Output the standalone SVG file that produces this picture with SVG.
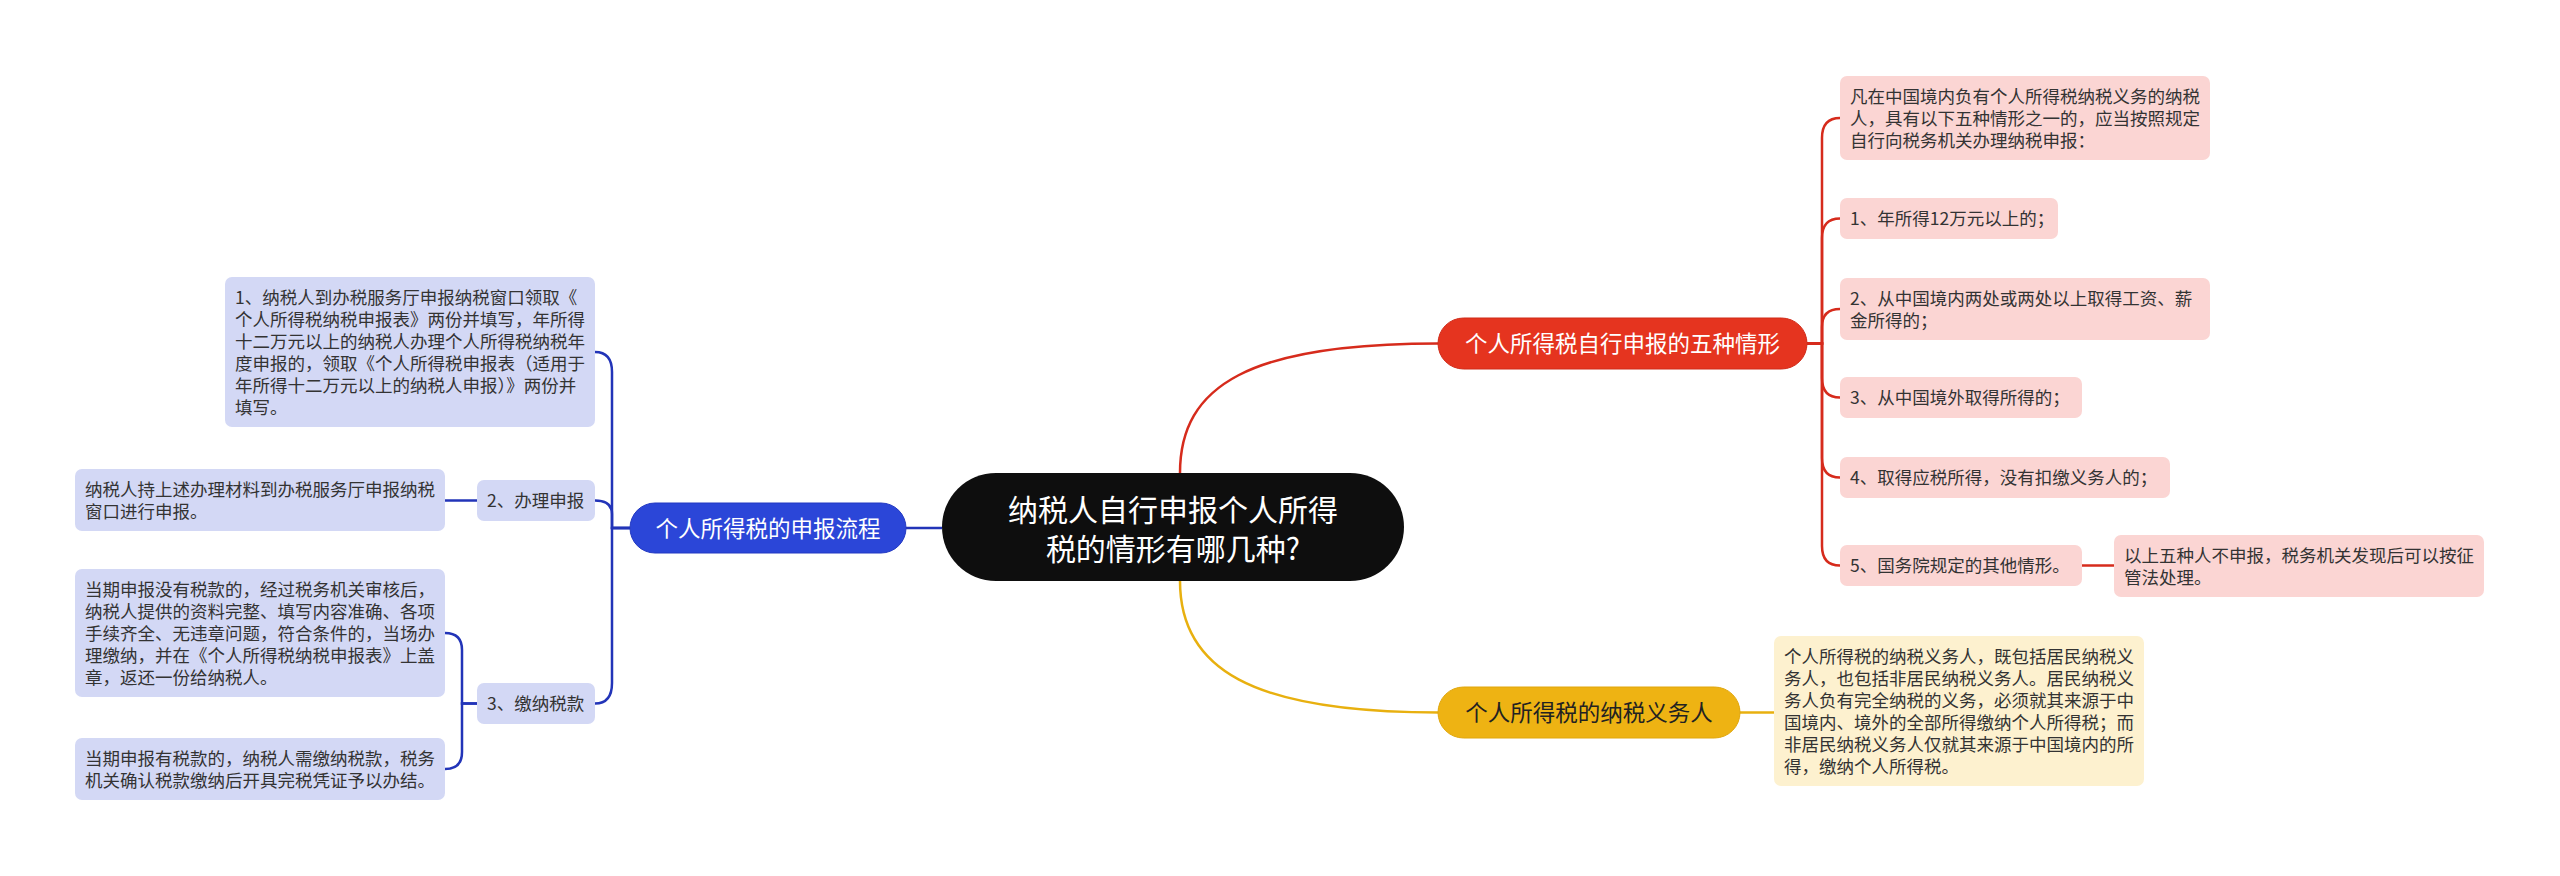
<svg xmlns="http://www.w3.org/2000/svg" width="2560" height="876" viewBox="0 0 2560 876">
<style>
text{font-family:"Noto Sans CJK SC","Noto Sans",sans-serif}
.sub{font-size:17.5px;fill:#333}
.main{font-size:22.5px;text-anchor:middle}
.ctr{font-size:30px;fill:#fff;text-anchor:middle}
.bbox{fill:#D3D8F5}
.rbox{fill:#FBD5D3}
.ybox{fill:#FDF1CF}
.cb{fill:none;stroke:#2234B8;stroke-width:2.5}
.cr{fill:none;stroke:#D62B1C;stroke-width:2.5}
.cy{fill:none;stroke:#E8B00F;stroke-width:2.5}
</style>
<rect width="2560" height="876" fill="#fff"/>
<g id="connectors">
<path class="cb" d="M942,528 H906" stroke-width="3"/>
<path class="cr" d="M1180,473 C1180,385 1250,343.5 1438,343.5" stroke-width="3"/>
<path class="cy" d="M1180,581 C1180,668 1250,712.5 1438,712.5" stroke-width="3"/>
<path class="cb" d="M630,528 H612 V372 Q612,352 595,352"/>
<path class="cb" d="M630,528 H612 V514 Q612,500.5 595,500.5"/>
<path class="cb" d="M630,528 H612 V683 Q612,703.5 595,703.5"/>
<path class="cb" d="M477,500.5 H445"/>
<path class="cb" d="M477,703.5 H462 V650 Q462,633 445,633"/>
<path class="cb" d="M477,703.5 H462 V752 Q462,769 445,769"/>
<path class="cr" d="M1807,343.5 H1822 V138 Q1822,118 1840,118"/>
<path class="cr" d="M1807,343.5 H1822 V238 Q1822,218.5 1840,218.5"/>
<path class="cr" d="M1807,343.5 H1822 V327 Q1822,309 1840,309"/>
<path class="cr" d="M1807,343.5 H1822 V378 Q1822,397.5 1840,397.5"/>
<path class="cr" d="M1807,343.5 H1822 V458 Q1822,477.5 1840,477.5"/>
<path class="cr" d="M1807,343.5 H1822 V546 Q1822,565.5 1840,565.5"/>
<path class="cr" d="M2082,565.5 H2114"/>
<path class="cy" d="M1740,712.5 H1774"/>
</g>
<g id="node-center">
<rect x="942" y="473" width="462" height="108" rx="54" fill="#0E0E0E"/>
<text class="ctr"><tspan x="1173" y="520.5">纳税人自行申报个人所得</tspan><tspan x="1173" y="559.5">税的情形有哪几种?</tspan></text>
</g>
<g id="node-process">
<rect x="630" y="503" width="276" height="50" rx="25" fill="#2B46D8" stroke="#2238C2" stroke-width="1"/>
<text class="main" x="768" y="536.5" fill="#fff">个人所得税的申报流程</text>
</g>
<g id="node-five">
<rect x="1438" y="318" width="369" height="51" rx="25.5" fill="#E5341F" stroke="#D02A18" stroke-width="1"/>
<text class="main" x="1622.5" y="352" fill="#fff">个人所得税自行申报的五种情形</text>
</g>
<g id="node-duty">
<rect x="1438" y="687" width="302" height="51" rx="25.5" fill="#EEB313" stroke="#E0A60C" stroke-width="1"/>
<text class="main" x="1589" y="721" fill="#222">个人所得税的纳税义务人</text>
</g>
<g id="node-b1">
<rect class="bbox" x="225" y="277" width="370" height="150" rx="7"/>
<text class="sub"><tspan x="235" y="303.5">1、纳税人到办税服务厅申报纳税窗口领取《</tspan><tspan x="235" y="325.5">个人所得税纳税申报表》两份并填写，年所得</tspan><tspan x="235" y="347.5">十二万元以上的纳税人办理个人所得税纳税年</tspan><tspan x="235" y="369.5">度申报的，领取《个人所得税申报表（适用于</tspan><tspan x="235" y="391.5">年所得十二万元以上的纳税人申报）》两份并</tspan><tspan x="235" y="413.5">填写。</tspan></text>
</g>
<g id="node-b2">
<rect class="bbox" x="477" y="480" width="118" height="41" rx="7"/>
<text class="sub" x="487" y="507">2、办理申报</text>
</g>
<g id="node-b2c">
<rect class="bbox" x="75" y="469" width="370" height="62" rx="7"/>
<text class="sub"><tspan x="85" y="495.5">纳税人持上述办理材料到办税服务厅申报纳税</tspan><tspan x="85" y="517.5">窗口进行申报。</tspan></text>
</g>
<g id="node-b3">
<rect class="bbox" x="477" y="683" width="118" height="41" rx="7"/>
<text class="sub" x="487" y="710">3、缴纳税款</text>
</g>
<g id="node-b3a">
<rect class="bbox" x="75" y="569" width="370" height="128" rx="7"/>
<text class="sub"><tspan x="85" y="595.5">当期申报没有税款的，经过税务机关审核后，</tspan><tspan x="85" y="617.5">纳税人提供的资料完整、填写内容准确、各项</tspan><tspan x="85" y="639.5">手续齐全、无违章问题，符合条件的，当场办</tspan><tspan x="85" y="661.5">理缴纳，并在《个人所得税纳税申报表》上盖</tspan><tspan x="85" y="683.5">章，返还一份给纳税人。</tspan></text>
</g>
<g id="node-b3b">
<rect class="bbox" x="75" y="738" width="370" height="62" rx="7"/>
<text class="sub"><tspan x="85" y="764.5">当期申报有税款的，纳税人需缴纳税款，税务</tspan><tspan x="85" y="786.5">机关确认税款缴纳后开具完税凭证予以办结。</tspan></text>
</g>
<g id="node-r0">
<rect class="rbox" x="1840" y="76" width="370" height="84" rx="7"/>
<text class="sub"><tspan x="1850" y="102.5">凡在中国境内负有个人所得税纳税义务的纳税</tspan><tspan x="1850" y="124.5">人，具有以下五种情形之一的，应当按照规定</tspan><tspan x="1850" y="146.5">自行向税务机关办理纳税申报：</tspan></text>
</g>
<g id="node-r1">
<rect class="rbox" x="1840" y="198" width="218" height="41" rx="7"/>
<text class="sub" x="1850" y="225">1、年所得12万元以上的；</text>
</g>
<g id="node-r2">
<rect class="rbox" x="1840" y="278" width="370" height="62" rx="7"/>
<text class="sub"><tspan x="1850" y="304.5">2、从中国境内两处或两处以上取得工资、薪</tspan><tspan x="1850" y="326.5">金所得的；</tspan></text>
</g>
<g id="node-r3">
<rect class="rbox" x="1840" y="377" width="242" height="41" rx="7"/>
<text class="sub" x="1850" y="404">3、从中国境外取得所得的；</text>
</g>
<g id="node-r4">
<rect class="rbox" x="1840" y="457" width="330" height="41" rx="7"/>
<text class="sub" x="1850" y="484">4、取得应税所得，没有扣缴义务人的；</text>
</g>
<g id="node-r5">
<rect class="rbox" x="1840" y="545" width="242" height="41" rx="7"/>
<text class="sub" x="1850" y="572">5、国务院规定的其他情形。</text>
</g>
<g id="node-r5c">
<rect class="rbox" x="2114" y="535" width="370" height="62" rx="7"/>
<text class="sub"><tspan x="2124" y="561.5">以上五种人不申报，税务机关发现后可以按征</tspan><tspan x="2124" y="583.5">管法处理。</tspan></text>
</g>
<g id="node-y1">
<rect class="ybox" x="1774" y="636" width="370" height="150" rx="7"/>
<text class="sub"><tspan x="1784" y="662.5">个人所得税的纳税义务人，既包括居民纳税义</tspan><tspan x="1784" y="684.5">务人，也包括非居民纳税义务人。居民纳税义</tspan><tspan x="1784" y="706.5">务人负有完全纳税的义务，必须就其来源于中</tspan><tspan x="1784" y="728.5">国境内、境外的全部所得缴纳个人所得税；而</tspan><tspan x="1784" y="750.5">非居民纳税义务人仅就其来源于中国境内的所</tspan><tspan x="1784" y="772.5">得，缴纳个人所得税。</tspan></text>
</g>
</svg>
